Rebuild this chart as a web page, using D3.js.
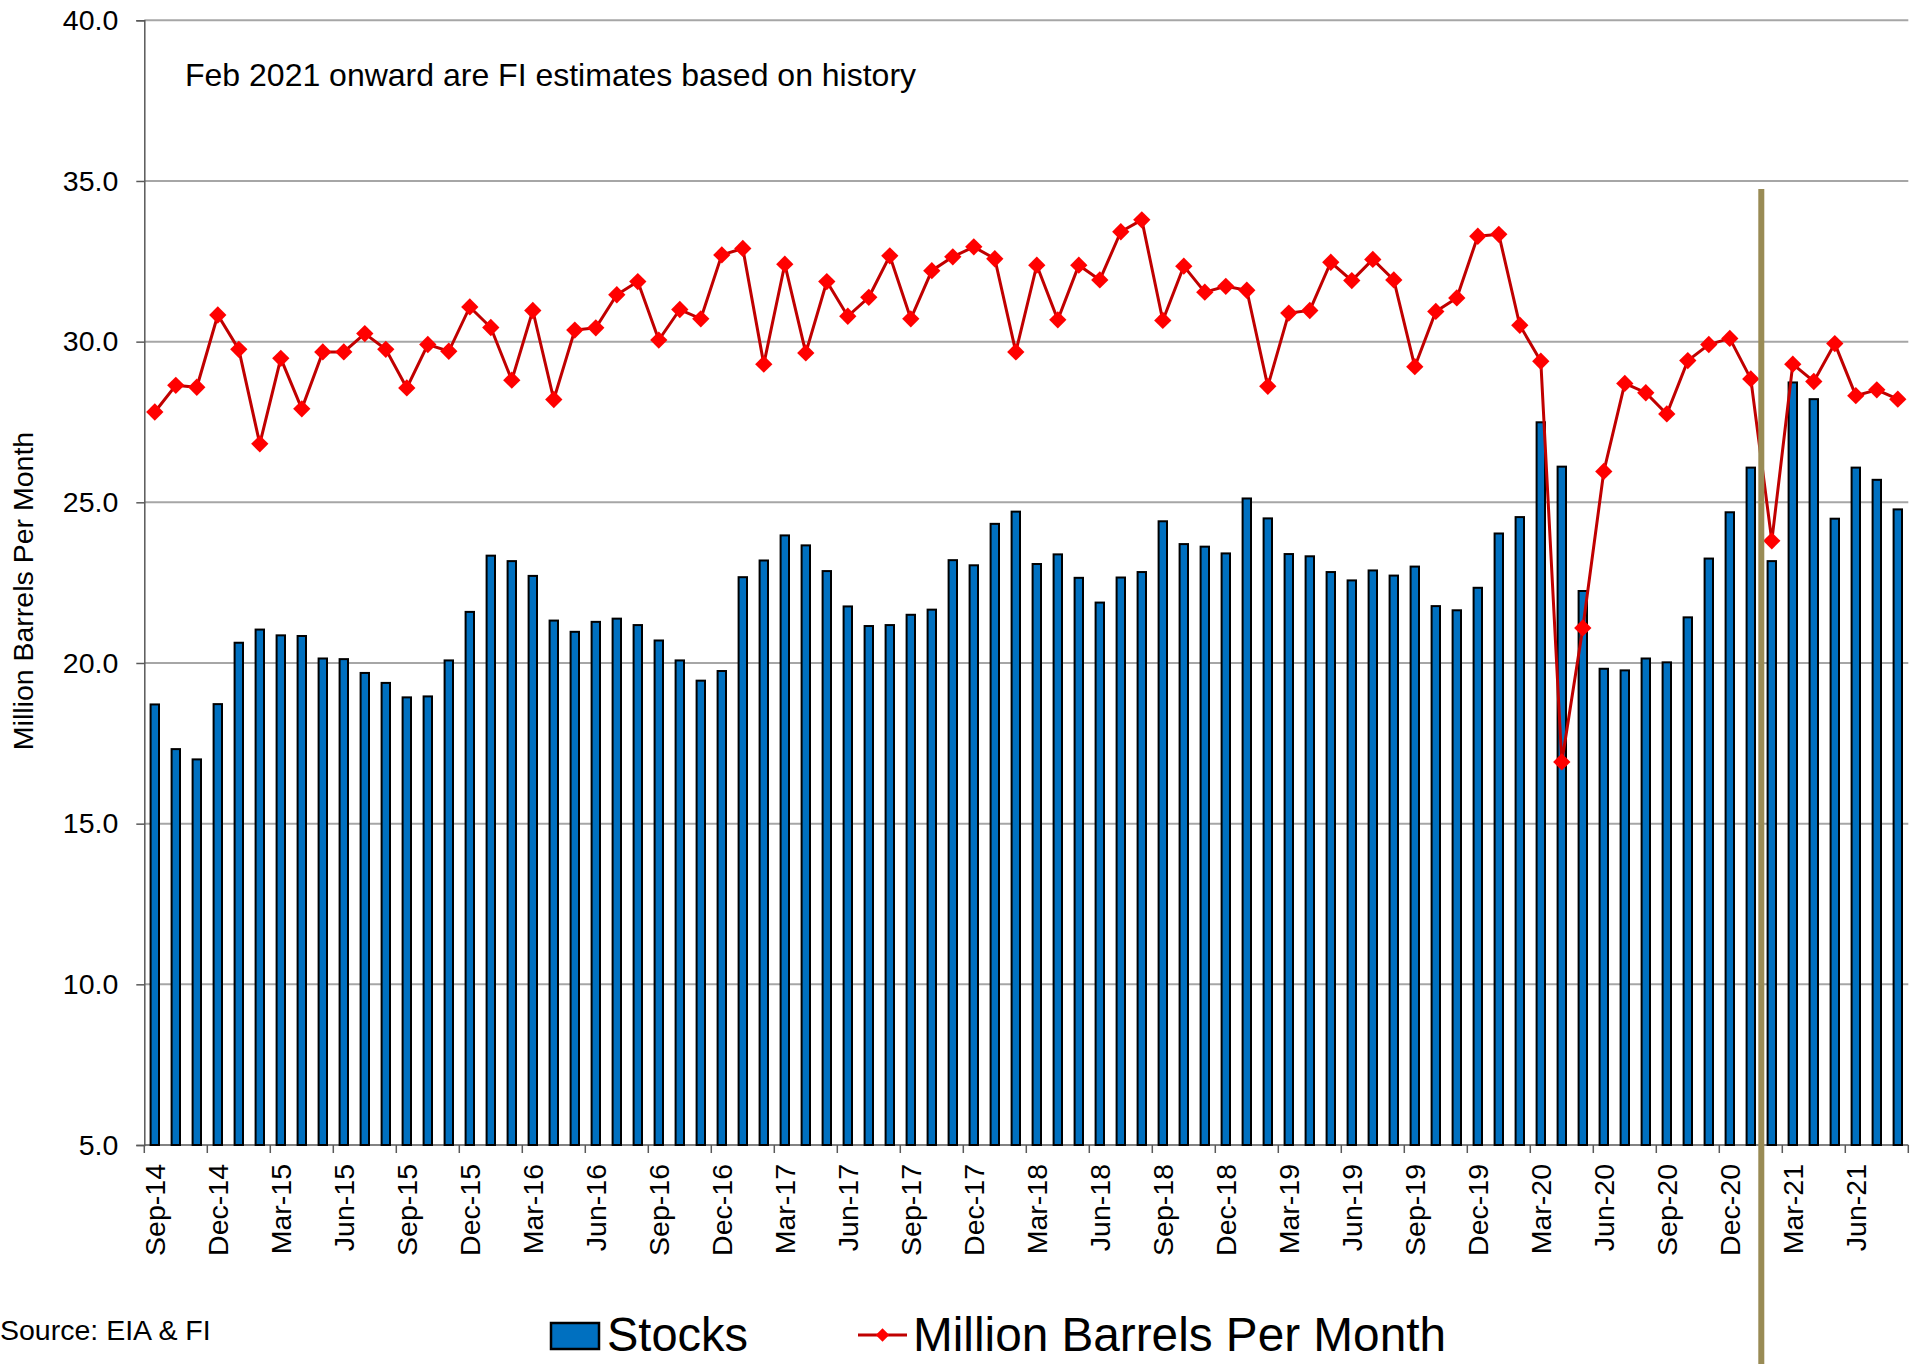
<!DOCTYPE html>
<html lang="en">
<head>
<title>Stocks vs Million Barrels Per Month</title>
<meta charset="utf-8">
<script src="https://d3js.org/d3.v7.min.js"></script>
<style>
	body { margin: 0; background: #fff; }
	text { font-family: "Liberation Sans", Arial, sans-serif; fill: #000; }
</style>
</head>
<body>
<div id="chart"></div>

<script type="text/javascript">
	// data
	var months = ['Sep-14','Oct-14','Nov-14','Dec-14','Jan-15','Feb-15','Mar-15','Apr-15','May-15','Jun-15','Jul-15','Aug-15',
		'Sep-15','Oct-15','Nov-15','Dec-15','Jan-16','Feb-16','Mar-16','Apr-16','May-16','Jun-16','Jul-16','Aug-16',
		'Sep-16','Oct-16','Nov-16','Dec-16','Jan-17','Feb-17','Mar-17','Apr-17','May-17','Jun-17','Jul-17','Aug-17',
		'Sep-17','Oct-17','Nov-17','Dec-17','Jan-18','Feb-18','Mar-18','Apr-18','May-18','Jun-18','Jul-18','Aug-18',
		'Sep-18','Oct-18','Nov-18','Dec-18','Jan-19','Feb-19','Mar-19','Apr-19','May-19','Jun-19','Jul-19','Aug-19',
		'Sep-19','Oct-19','Nov-19','Dec-19','Jan-20','Feb-20','Mar-20','Apr-20','May-20','Jun-20','Jul-20','Aug-20',
		'Sep-20','Oct-20','Nov-20','Dec-20','Jan-21','Feb-21','Mar-21','Apr-21','May-21','Jun-21','Jul-21','Aug-21'];

	var stocks = [18.71,17.32,17.00,18.72,20.63,21.04,20.86,20.84,20.14,20.12,19.69,19.38,
		18.93,18.96,20.08,21.59,23.34,23.17,22.71,21.32,20.97,21.28,21.38,21.18,
		20.70,20.08,19.45,19.75,22.67,23.19,23.97,23.66,22.86,21.76,21.15,21.18,
		21.50,21.66,23.20,23.04,24.33,24.71,23.08,23.38,22.65,21.88,22.66,22.83,
		24.41,23.70,23.62,23.41,25.12,24.50,23.39,23.32,22.83,22.57,22.88,22.72,
		23.00,21.77,21.64,22.34,24.03,24.54,27.49,26.11,22.24,19.82,19.77,20.14,
		20.02,21.42,23.25,24.69,26.08,23.17,28.73,28.21,24.49,26.08,25.70,24.78];

	var mbpm = [27.81,28.64,28.58,30.83,29.76,26.82,29.48,27.91,29.68,29.68,30.25,29.76,
		28.56,29.91,29.70,31.08,30.44,28.80,30.97,28.20,30.36,30.43,31.46,31.87,
		30.05,31.00,30.71,32.70,32.90,29.30,32.41,29.65,31.87,30.79,31.38,32.67,
		30.71,32.21,32.64,32.95,32.58,29.68,32.38,30.68,32.38,31.92,33.42,33.79,
		30.66,32.35,31.54,31.72,31.60,28.61,30.89,30.97,32.47,31.90,32.56,31.92,
		29.22,30.94,31.36,33.28,33.34,30.51,29.39,16.92,21.09,25.96,28.70,28.41,
		27.75,29.41,29.91,30.10,28.84,23.80,29.30,28.76,29.94,28.32,28.50,28.21];

	var yTicks = [5, 10, 15, 20, 25, 30, 35, 40];
	var tickMonths = months.filter(function(d, i){ return i % 3 == 0; });
	var estimateStart = 'Feb-21';
	var note = 'Feb 2021 onward are FI estimates based on history';
	var source = 'Source: EIA & FI';
	var seriesNames = ['Stocks', 'Million Barrels Per Month'];

	// layout (note: "top" is reserved on window, so use plot.*)
	var W = 1921, H = 1364;
	var plot = {left: 144.3, right: 1908.3, top: 20.3, bottom: 1145};

	var svg = d3.select("#chart")
		.append("svg")
		.attr("width", W)
		.attr("height", H);

	var x = d3.scaleBand()
		.domain(months)
		.range([plot.left, plot.right])
		.padding(0);

	var y = d3.scaleLinear()
		.domain([5, 40])
		.range([plot.bottom, plot.top]);

	// gridlines
	svg.append("g")
		.selectAll("line")
		.data(yTicks.slice(1))
		.enter()
		.append("line")
		.attr("x1", plot.left)
		.attr("x2", plot.right)
		.attr("y1", function(d){ return y(d); })
		.attr("y2", function(d){ return y(d); })
		.style("stroke", "#a6a6a6")
		.style("stroke-width", 2);

	// y axis
	var yAxis = svg.append("g")
		.attr("transform", "translate(" + plot.left + ",0)")
		.call(d3.axisLeft(y).tickValues(yTicks).tickFormat(d3.format(".1f")).tickSize(8).tickPadding(18));
	yAxis.select(".domain").style("stroke", "#595959").style("stroke-width", 1.5);
	yAxis.selectAll(".tick line").style("stroke", "#595959").style("stroke-width", 1.5);
	yAxis.selectAll(".tick text")
		.style("font-size", "28.5px")
		.style("font-family", '"Liberation Sans", Arial, sans-serif')
		.style("fill", "#000");

	// x axis: ticks on category boundaries every 3 months
	var boundaries = d3.range(0, months.length + 1, 3);
	svg.append("line")
		.attr("x1", plot.left).attr("x2", plot.right)
		.attr("y1", plot.bottom).attr("y2", plot.bottom)
		.style("stroke", "#595959")
		.style("stroke-width", 1.5);
	svg.append("g")
		.selectAll("line")
		.data(boundaries)
		.enter()
		.append("line")
		.attr("x1", function(d){ return plot.left + d * x.step(); })
		.attr("x2", function(d){ return plot.left + d * x.step(); })
		.attr("y1", plot.bottom)
		.attr("y2", plot.bottom + 8)
		.style("stroke", "#595959")
		.style("stroke-width", 1.5);

	svg.append("g")
		.selectAll("text")
		.data(tickMonths)
		.enter()
		.append("text")
		.attr("transform", function(d){
			return "translate(" + (x(d) + x.bandwidth() / 2) + "," + (plot.bottom + 19) + ") rotate(-90)";
		})
		.attr("dy", "0.36em")
		.attr("text-anchor", "end")
		.style("font-size", "28.5px")
		.text(function(d){ return d; });

	// bars
	var barW = x.bandwidth() * 0.4;
	svg.append("g")
		.selectAll("rect")
		.data(stocks)
		.enter()
		.append("rect")
		.attr("x", function(d, i){ return x(months[i]) + (x.bandwidth() - barW) / 2; })
		.attr("y", function(d){ return y(d); })
		.attr("width", barW)
		.attr("height", function(d){ return y(5) - y(d); })
		.style("fill", "#0070c0")
		.style("stroke", "#000")
		.style("stroke-width", 2);

	// line + diamond markers
	var line = d3.line()
		.x(function(d, i){ return x(months[i]) + x.bandwidth() / 2; })
		.y(function(d){ return y(d); });

	svg.append("path")
		.datum(mbpm)
		.attr("d", line)
		.style("fill", "none")
		.style("stroke", "#c00000")
		.style("stroke-width", 3);

	var diamond = d3.symbol().type(d3.symbolSquare).size(150);
	svg.append("g")
		.selectAll("path")
		.data(mbpm)
		.enter()
		.append("path")
		.attr("d", diamond)
		.attr("transform", function(d, i){
			return "translate(" + (x(months[i]) + x.bandwidth() / 2) + "," + y(d) + ") rotate(45)";
		})
		.style("fill", "#ff0000");

	// estimate divider
	svg.append("line")
		.attr("x1", x(estimateStart))
		.attr("x2", x(estimateStart))
		.attr("y1", 189)
		.attr("y2", H)
		.style("stroke", "#998b55")
		.style("stroke-width", 6);

	// annotation
	svg.append("text")
		.attr("x", 185)
		.attr("y", 86)
		.style("font-size", "32px")
		.text(note);

	// y axis title
	svg.append("text")
		.attr("transform", "translate(33,591) rotate(-90)")
		.attr("text-anchor", "middle")
		.style("font-size", "28.5px")
		.text(seriesNames[1]);

	// source
	svg.append("text")
		.attr("x", 0)
		.attr("y", 1340)
		.style("font-size", "28.5px")
		.text(source);

	// legend
	var lg = svg.append("g");
	lg.append("rect")
		.attr("x", 551).attr("y", 1323)
		.attr("width", 48).attr("height", 26)
		.style("fill", "#0070c0")
		.style("stroke", "#000")
		.style("stroke-width", 2.5);
	lg.append("text")
		.attr("x", 607).attr("y", 1351)
		.attr("textLength", 141)
		.attr("lengthAdjust", "spacingAndGlyphs")
		.style("font-size", "47.5px")
		.text(seriesNames[0]);
	lg.append("line")
		.attr("x1", 858).attr("x2", 907)
		.attr("y1", 1335).attr("y2", 1335)
		.style("stroke", "#c00000")
		.style("stroke-width", 3);
	lg.append("path")
		.attr("d", d3.symbol().type(d3.symbolSquare).size(90))
		.attr("transform", "translate(882.5,1335) rotate(45)")
		.style("fill", "#ff0000");
	lg.append("text")
		.attr("x", 913).attr("y", 1351)
		.attr("textLength", 533)
		.attr("lengthAdjust", "spacingAndGlyphs")
		.style("font-size", "47.5px")
		.text(seriesNames[1]);
</script>

</body>
</html>
